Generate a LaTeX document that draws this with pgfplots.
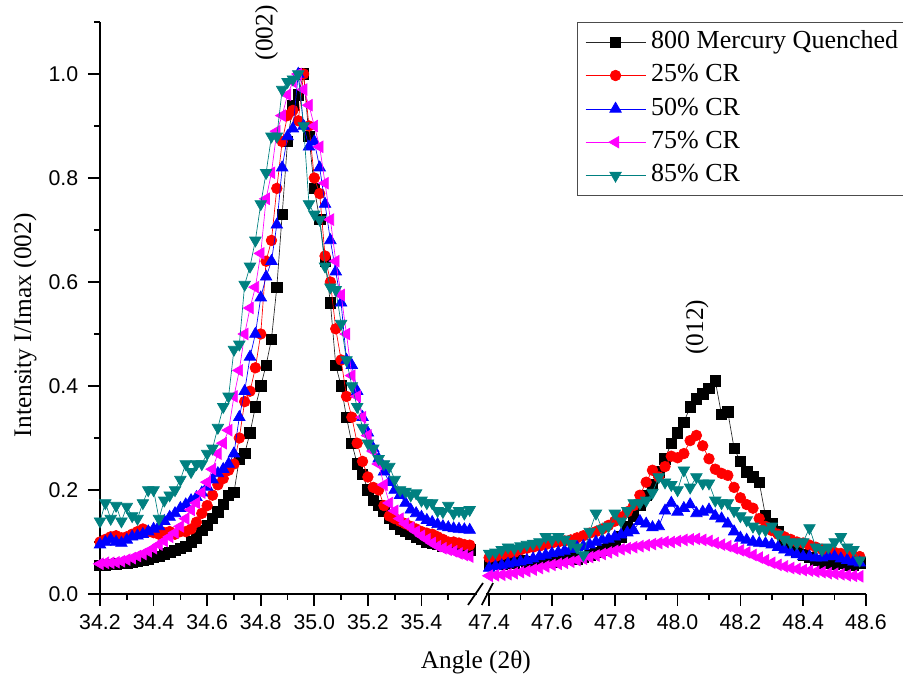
\documentclass[border=0pt]{standalone}
\usepackage{fontspec}
\setmainfont{Liberation Serif}
\newfontfamily\ticksans{Liberation Sans}
\usepackage{pgfplots}
\usepackage{pgfplotstable}
\pgfplotsset{compat=1.18}
\definecolor{cteal}{RGB}{0,128,128}
\definecolor{cmag}{RGB}{255,0,255}
\definecolor{cred}{RGB}{255,0,0}
\definecolor{cblue}{RGB}{0,0,255}

\pgfplotstableread{
x s1 s2 s3 s4 s5
34.20 0.055 0.100 0.095 0.058 0.140
34.22 0.056 0.105 0.100 0.060 0.175
34.24 0.057 0.110 0.105 0.060 0.145
34.26 0.058 0.112 0.100 0.061 0.170
34.28 0.059 0.108 0.098 0.063 0.140
34.30 0.060 0.110 0.104 0.066 0.168
34.32 0.062 0.115 0.110 0.069 0.150
34.34 0.064 0.120 0.112 0.073 0.145
34.36 0.066 0.125 0.115 0.077 0.175
34.38 0.068 0.120 0.120 0.082 0.200
34.40 0.070 0.118 0.125 0.088 0.200
34.42 0.073 0.115 0.130 0.095 0.145
34.44 0.077 0.118 0.140 0.102 0.180
34.46 0.080 0.120 0.148 0.110 0.190
34.48 0.084 0.115 0.155 0.118 0.200
34.50 0.088 0.120 0.165 0.130 0.220
34.52 0.092 0.120 0.172 0.145 0.250
34.54 0.100 0.125 0.180 0.162 0.235
34.56 0.108 0.138 0.186 0.175 0.250
34.58 0.122 0.155 0.195 0.195 0.250
34.60 0.132 0.170 0.206 0.215 0.270
34.62 0.145 0.190 0.220 0.240 0.280
34.64 0.158 0.210 0.232 0.270 0.320
34.66 0.172 0.222 0.240 0.290 0.360
34.68 0.190 0.238 0.250 0.315 0.380
34.70 0.195 0.250 0.270 0.380 0.470
34.72 0.260 0.300 0.340 0.430 0.480
34.74 0.270 0.370 0.390 0.500 0.595
34.76 0.310 0.390 0.456 0.550 0.630
34.78 0.360 0.435 0.500 0.590 0.680
34.80 0.400 0.500 0.570 0.655 0.750
34.82 0.440 0.640 0.610 0.760 0.810
34.84 0.490 0.680 0.640 0.810 0.880
34.86 0.590 0.780 0.710 0.890 0.880
34.88 0.730 0.870 0.820 0.920 0.970
34.90 0.870 0.920 0.880 0.960 0.985
34.92 0.940 0.930 0.895 0.985 0.990
34.94 0.960 0.910 1.000 1.000 1.000
34.96 1.000 1.000 0.900 0.970 0.900
34.98 0.880 0.900 0.860 0.940 0.750
35.00 0.780 0.800 0.870 0.900 0.730
35.02 0.720 0.770 0.820 0.860 0.720
35.04 0.640 0.650 0.750 0.790 0.630
35.06 0.560 0.600 0.680 0.720 0.590
35.08 0.440 0.510 0.620 0.640 0.585
35.10 0.400 0.450 0.560 0.575 0.520
35.12 0.340 0.380 0.450 0.500 0.450
35.14 0.290 0.340 0.440 0.420 0.400
35.16 0.250 0.290 0.390 0.380 0.360
35.18 0.230 0.255 0.340 0.340 0.320
35.20 0.200 0.225 0.310 0.305 0.290
35.22 0.180 0.205 0.280 0.275 0.280
35.24 0.170 0.200 0.260 0.250 0.260
35.26 0.160 0.170 0.235 0.210 0.250
35.28 0.145 0.150 0.215 0.175 0.245
35.30 0.135 0.145 0.200 0.160 0.220
35.32 0.125 0.140 0.190 0.145 0.200
35.34 0.120 0.135 0.175 0.135 0.197
35.36 0.115 0.130 0.162 0.128 0.190
35.38 0.110 0.125 0.155 0.120 0.194
35.40 0.105 0.120 0.148 0.112 0.180
35.42 0.100 0.117 0.142 0.105 0.175
35.44 0.098 0.115 0.138 0.098 0.175
35.46 0.095 0.110 0.134 0.092 0.160
35.48 0.092 0.105 0.130 0.088 0.158
35.50 0.090 0.100 0.128 0.085 0.170
35.52 0.088 0.100 0.126 0.082 0.155
35.54 0.087 0.098 0.125 0.078 0.160
35.56 0.086 0.095 0.124 0.075 0.155
35.58 0.085 0.094 0.123 0.072 0.162
}\lefttab

\pgfplotstableread{
x s1 s2 s3 s4 s5
47.40 0.055 0.070 0.050 0.035 0.078
47.42 0.060 0.072 0.053 0.036 0.080
47.44 0.058 0.075 0.055 0.037 0.085
47.46 0.060 0.078 0.058 0.038 0.090
47.48 0.060 0.080 0.060 0.040 0.088
47.50 0.065 0.085 0.062 0.042 0.092
47.52 0.060 0.088 0.065 0.044 0.095
47.54 0.062 0.090 0.068 0.047 0.097
47.56 0.060 0.092 0.072 0.050 0.100
47.58 0.065 0.095 0.075 0.053 0.110
47.60 0.062 0.098 0.078 0.056 0.105
47.62 0.065 0.100 0.080 0.058 0.110
47.64 0.068 0.102 0.083 0.060 0.105
47.66 0.070 0.104 0.086 0.062 0.097
47.68 0.068 0.108 0.090 0.065 0.090
47.70 0.070 0.112 0.092 0.068 0.075
47.72 0.075 0.117 0.095 0.071 0.120
47.74 0.080 0.120 0.100 0.074 0.155
47.76 0.085 0.125 0.104 0.077 0.125
47.78 0.090 0.132 0.106 0.080 0.130
47.80 0.100 0.140 0.110 0.083 0.155
47.82 0.110 0.148 0.114 0.086 0.140
47.84 0.130 0.158 0.118 0.088 0.160
47.86 0.150 0.170 0.122 0.090 0.175
47.88 0.170 0.190 0.140 0.092 0.175
47.90 0.190 0.215 0.135 0.094 0.180
47.92 0.210 0.238 0.128 0.096 0.195
47.94 0.235 0.225 0.130 0.098 0.225
47.96 0.260 0.245 0.160 0.100 0.215
47.98 0.290 0.265 0.175 0.100 0.210
48.00 0.310 0.262 0.158 0.102 0.200
48.02 0.330 0.270 0.165 0.104 0.238
48.04 0.360 0.295 0.172 0.105 0.205
48.06 0.375 0.305 0.155 0.106 0.225
48.08 0.385 0.285 0.158 0.104 0.213
48.10 0.395 0.260 0.162 0.102 0.213
48.12 0.410 0.240 0.150 0.098 0.180
48.14 0.345 0.232 0.145 0.095 0.175
48.16 0.350 0.228 0.135 0.092 0.175
48.18 0.280 0.205 0.120 0.088 0.160
48.20 0.255 0.185 0.108 0.084 0.150
48.22 0.235 0.172 0.104 0.080 0.142
48.24 0.225 0.165 0.100 0.075 0.130
48.26 0.215 0.145 0.098 0.070 0.125
48.28 0.150 0.130 0.097 0.065 0.123
48.30 0.135 0.122 0.095 0.060 0.130
48.32 0.120 0.115 0.090 0.056 0.115
48.34 0.100 0.110 0.085 0.053 0.105
48.36 0.090 0.105 0.080 0.050 0.100
48.38 0.080 0.100 0.076 0.048 0.098
48.40 0.075 0.098 0.072 0.046 0.100
48.42 0.070 0.094 0.072 0.045 0.127
48.44 0.065 0.090 0.070 0.043 0.090
48.46 0.060 0.086 0.070 0.042 0.085
48.48 0.060 0.083 0.072 0.040 0.090
48.50 0.058 0.080 0.072 0.039 0.100
48.52 0.060 0.078 0.068 0.038 0.110
48.54 0.055 0.075 0.065 0.036 0.090
48.56 0.055 0.073 0.062 0.035 0.085
48.58 0.060 0.072 0.060 0.034 0.065
}\righttab

\pgfplotsset{
  common/.style={
    scale only axis, height=429pt, ymin=0, ymax=1.1,
    axis x line*=bottom,
    tick align=outside,
    major tick length=9pt, minor tick length=4.5pt,
    axis line style={line width=1.3pt, black},
    every tick/.append style={line width=1.3pt, black},
    tick label style={font=\ticksans\fontsize{16}{16}\selectfont},
    xticklabel style={yshift=-3pt},
    clip mode=individual,
    /pgf/number format/fixed,
    /pgf/number format/fixed zerofill,
    /pgf/number format/precision=1,
    /pgf/number format/assume math mode=true,
  },
  s1/.style={black!85, line width=0.5pt, mark=square*, mark size=3.9pt, mark options={solid, black, fill=black}},
  s2/.style={cred, line width=0.5pt, mark=*, mark size=4pt, mark options={solid, cred, fill=cred}},
  s3/.style={cblue, line width=0.5pt, mark=triangle*, mark size=5pt, mark options={solid, cblue, fill=cblue}},
  s4/.style={cmag, line width=0.5pt, mark=triangle*, mark size=5pt, mark options={solid, cmag, fill=cmag, rotate=90}},
  s5/.style={cteal, line width=0.5pt, mark=triangle*, mark size=5pt, mark options={solid, cteal, fill=cteal, rotate=180}},
}

\begin{document}
\begin{tikzpicture}
\path[use as bounding box] (0pt,0pt) rectangle (677.25pt,510.75pt);

\begin{axis}[common,
  at={(75pt,65.25pt)}, anchor=south west,
  width=282.5pt,
  xmin=34.2, xmax=35.606,
  axis y line*=left,
  yticklabel style={xshift=-3.75pt},
  xtick={34.2,34.4,34.6,34.8,35.0,35.2,35.4},
  minor xtick={34.3,34.5,34.7,34.9,35.1,35.3,35.5},
  ytick={0,0.2,0.4,0.6,0.8,1.0},
  minor ytick={0.1,0.3,0.5,0.7,0.9,1.1},
  xlabel={Angle (2θ)},
  ylabel={Intensity I/Imax (002)},
  label style={font=\fontsize{19}{21}\selectfont},
  xlabel style={at={(axis description cs:0.998,-0.119)}, anchor=center},
  ylabel style={at={(axis description cs:-0.199,0.47)}, anchor=center},
]
\addplot[s1] table[x=x,y=s1]{\lefttab};
\addplot[s2] table[x=x,y=s2]{\lefttab};
\addplot[s3] table[x=x,y=s3]{\lefttab};
\addplot[s4] table[x=x,y=s4]{\lefttab};
\addplot[s5] table[x=x,y=s5]{\lefttab};
\node[rotate=90, font=\fontsize{19}{21}\selectfont] at (axis cs:34.822,1.079) {(002)};
\end{axis}

\begin{axis}[common,
  at={(364.5pt,65.25pt)}, anchor=south west,
  width=285pt,
  xmin=47.39, xmax=48.6,
  hide y axis,
  xtick={47.4,47.6,47.8,48.0,48.2,48.4,48.6},
  minor xtick={47.5,47.7,47.9,48.1,48.3,48.5},
  legend cell align=left,
  legend style={at={(0.2395,1)}, anchor=north west, draw=black!70, line width=0.8pt,
    fill=white, font=\fontsize{19.5}{21}\selectfont,
    inner xsep=5.75pt, inner ysep=4.5pt, row sep=4.5pt, column sep=3pt,
    nodes={inner sep=1pt, text height=14pt, text depth=4.5pt}},
  legend image code/.code={\draw[#1, mark repeat=2, mark phase=2] plot coordinates {(0pt,0pt) (22.5pt,0pt) (45pt,0pt)};},
]
\addplot[s1] table[x=x,y=s1]{\righttab};
\addlegendentry{800 Mercury Quenched}
\addplot[s2] table[x=x,y=s2]{\righttab};
\addlegendentry{25\% CR}
\addplot[s3] table[x=x,y=s3]{\righttab};
\addlegendentry{50\% CR}
\addplot[s4] table[x=x,y=s4]{\righttab};
\addlegendentry{75\% CR}
\addplot[s5] table[x=x,y=s5]{\righttab};
\addlegendentry{85\% CR}
\node[rotate=90, font=\fontsize{19}{21}\selectfont] at (axis cs:48.062,0.513) {(012)};
\end{axis}

\draw[line width=1.3pt] (351pt,57pt) -- (362.25pt,73.5pt);
\draw[line width=1.3pt] (361.3pt,57pt) -- (369.75pt,73.5pt);
\end{tikzpicture}
\end{document}
